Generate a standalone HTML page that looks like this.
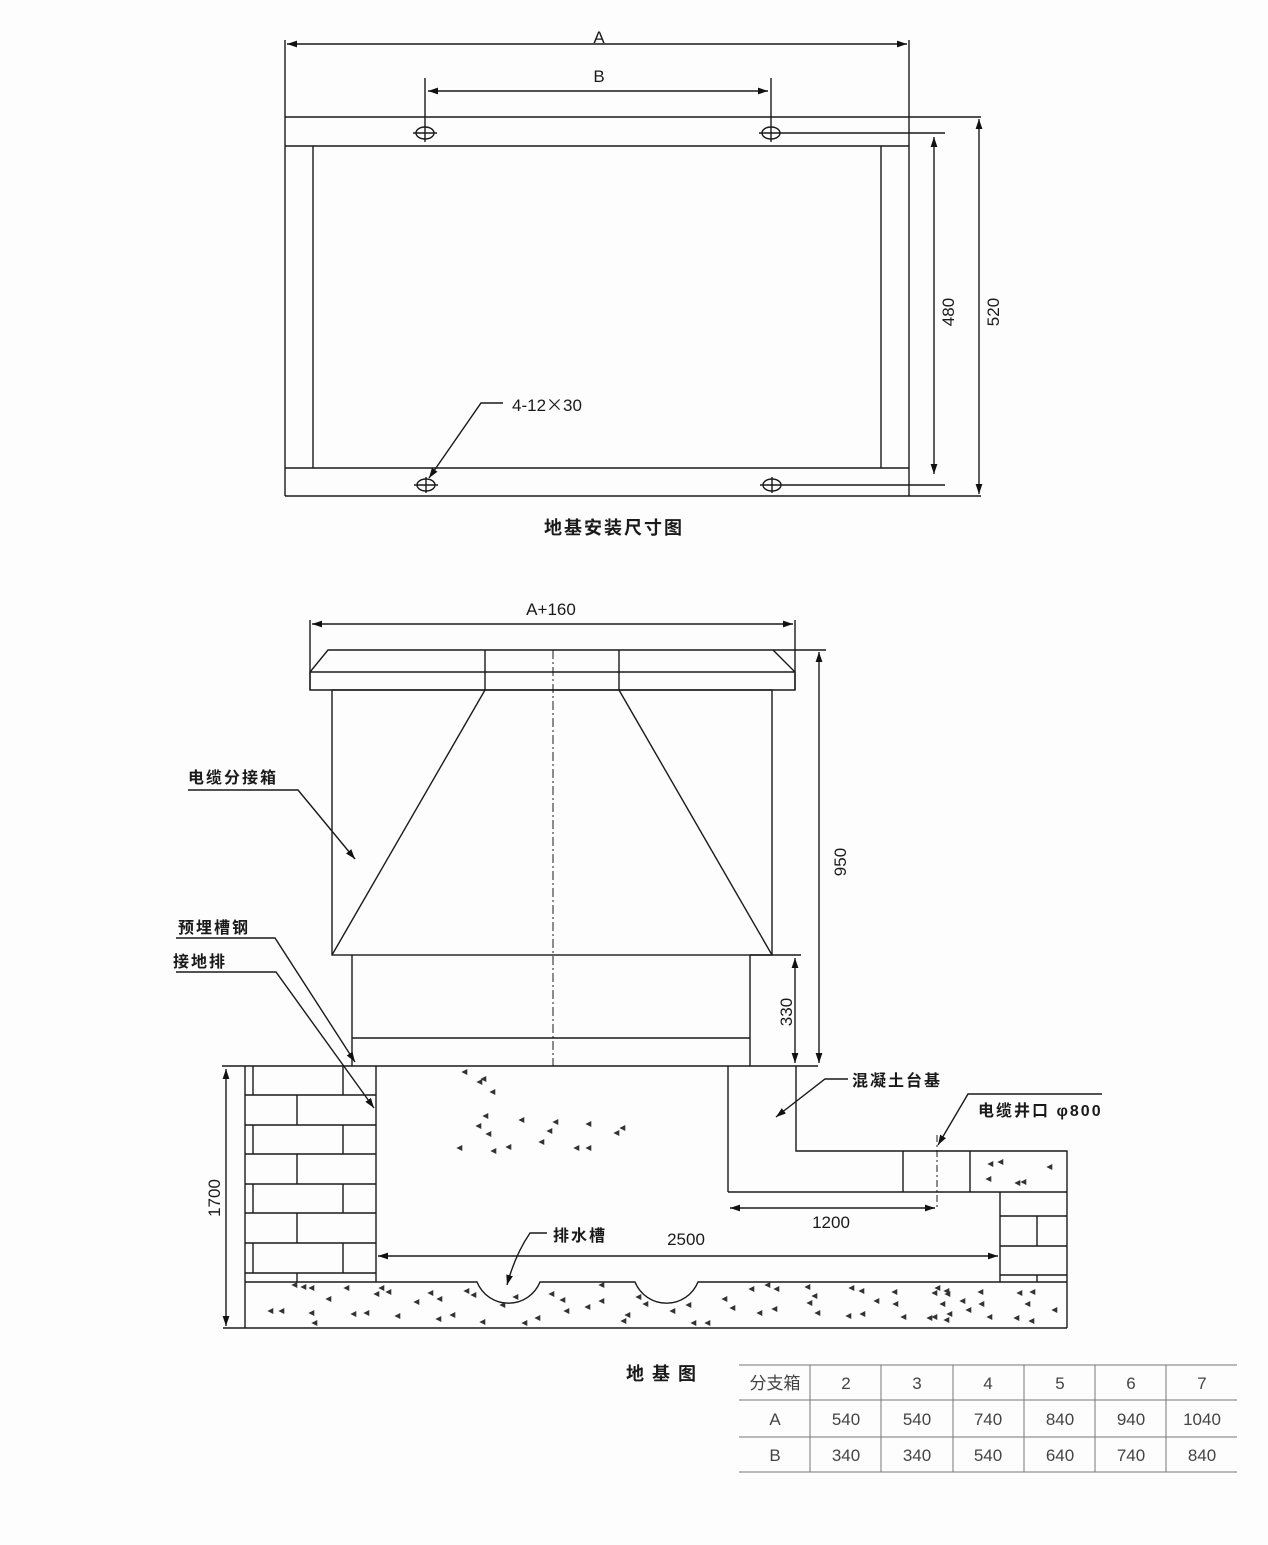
<!DOCTYPE html>
<html><head><meta charset="utf-8">
<style>
html,body{margin:0;padding:0;background:#fdfdfd;}
svg{display:block;}
text{font-family:"Liberation Sans","Noto Sans CJK SC",sans-serif;fill:#1a1a1a;}
.cn{font-weight:700;font-size:16px;letter-spacing:2px;}
.num{font-size:17px;}
.tb{font-size:17px;fill:#444;text-anchor:middle;}
</style></head>
<body>
<svg width="1268" height="1545" viewBox="0 0 1268 1545" xmlns="http://www.w3.org/2000/svg">
<defs>
<marker id="ar" markerWidth="12" markerHeight="8" refX="10" refY="4" orient="auto-start-reverse" markerUnits="userSpaceOnUse"><path d="M0,0.6 L10,4 L0,7.4 Z" fill="#111"/></marker>
</defs>

<g stroke="#1a1a1a" stroke-width="1.4" fill="none">
<!-- ===== Top diagram ===== -->
<line x1="285" y1="117" x2="981" y2="117"/>
<line x1="285" y1="146" x2="909" y2="146"/>
<line x1="285" y1="468" x2="909" y2="468"/>
<line x1="285" y1="496" x2="981" y2="496"/>
<line x1="285" y1="40" x2="285" y2="496"/>
<line x1="909" y1="40" x2="909" y2="496"/>
<line x1="313" y1="146" x2="313" y2="468"/>
<line x1="881" y1="146" x2="881" y2="468"/>
<line x1="287" y1="44" x2="907" y2="44" marker-start="url(#ar)" marker-end="url(#ar)"/>
<line x1="425" y1="78" x2="425" y2="142"/>
<line x1="771" y1="78" x2="771" y2="142"/>
<line x1="428" y1="91" x2="768" y2="91" marker-start="url(#ar)" marker-end="url(#ar)"/>
<ellipse cx="425" cy="133" rx="9" ry="6"/>
<line x1="413" y1="133" x2="437" y2="133"/>
<ellipse cx="771" cy="133" rx="9" ry="6"/>
<line x1="759" y1="133" x2="781" y2="133"/>
<line x1="781" y1="133" x2="945" y2="133"/>
<ellipse cx="426" cy="485" rx="9" ry="6"/>
<line x1="414" y1="485" x2="438" y2="485"/>
<line x1="426" y1="477" x2="426" y2="493"/>
<ellipse cx="772" cy="485" rx="9" ry="6"/>
<line x1="760" y1="485" x2="945" y2="485"/>
<line x1="772" y1="477" x2="772" y2="493"/>
<line x1="934" y1="137" x2="934" y2="474" marker-start="url(#ar)" marker-end="url(#ar)"/>
<line x1="979" y1="119" x2="979" y2="494" marker-start="url(#ar)" marker-end="url(#ar)"/>
<polyline points="503,403 481,403 429,478" marker-end="url(#ar)"/>

<!-- ===== Bottom diagram: box ===== -->
<line x1="310" y1="620" x2="310" y2="690"/>
<line x1="795" y1="620" x2="795" y2="690"/>
<line x1="312" y1="624" x2="793" y2="624" marker-start="url(#ar)" marker-end="url(#ar)"/>
<polygon points="310,690 310,672 328,650 773,650 795,672 795,690"/>
<line x1="310" y1="672" x2="795" y2="672"/>
<line x1="485" y1="650" x2="485" y2="690"/>
<line x1="619" y1="650" x2="619" y2="690"/>
<line x1="773" y1="650" x2="826" y2="650"/>
<rect x="332" y="690" width="440" height="265"/>
<line x1="485" y1="690" x2="332" y2="955"/>
<line x1="619" y1="690" x2="772" y2="955"/>
<line x1="352" y1="955" x2="352" y2="1066"/>
<line x1="750" y1="955" x2="750" y2="1066"/>
<line x1="352" y1="1038" x2="750" y2="1038"/>
<line x1="750" y1="955" x2="801" y2="955"/>
<line x1="553" y1="650" x2="553" y2="1066" stroke-width="1" stroke-dasharray="9 3 2 3"/>
<line x1="819" y1="652" x2="819" y2="1063" marker-start="url(#ar)" marker-end="url(#ar)"/>
<line x1="795" y1="958" x2="795" y2="1063" marker-start="url(#ar)" marker-end="url(#ar)"/>
<line x1="222" y1="1066" x2="818" y2="1066"/>

<!-- ===== Pedestal ===== -->
<line x1="728" y1="1066" x2="728" y2="1192"/>
<line x1="728" y1="1192" x2="1067" y2="1192"/>
<polyline points="796,1066 796,1151 1067,1151 1067,1328"/>
<line x1="903" y1="1151" x2="903" y2="1192"/>
<line x1="970" y1="1151" x2="970" y2="1192"/>
<line x1="937" y1="1135" x2="937" y2="1210" stroke-width="1" stroke-dasharray="7 3 2 3"/>
<line x1="730" y1="1208" x2="935" y2="1208" marker-start="url(#ar)" marker-end="url(#ar)"/>

<!-- right brick -->
<line x1="1000" y1="1192" x2="1000" y2="1282"/>
<line x1="1000" y1="1216" x2="1067" y2="1216"/>
<line x1="1000" y1="1246" x2="1067" y2="1246"/>
<line x1="1000" y1="1275" x2="1067" y2="1275"/>
<line x1="1037" y1="1216" x2="1037" y2="1246"/>
<line x1="1037" y1="1275" x2="1037" y2="1282"/>

<!-- left brick wall -->
<line x1="245" y1="1066" x2="245" y2="1328"/>
<line x1="376" y1="1066" x2="376" y2="1282"/>
<line x1="245" y1="1095" x2="376" y2="1095"/>
<line x1="245" y1="1125" x2="376" y2="1125"/>
<line x1="245" y1="1154" x2="376" y2="1154"/>
<line x1="245" y1="1184" x2="376" y2="1184"/>
<line x1="245" y1="1213" x2="376" y2="1213"/>
<line x1="245" y1="1243" x2="376" y2="1243"/>
<line x1="245" y1="1273" x2="376" y2="1273"/>
<line x1="253" y1="1066" x2="253" y2="1095"/><line x1="343" y1="1066" x2="343" y2="1095"/>
<line x1="297" y1="1095" x2="297" y2="1125"/>
<line x1="253" y1="1125" x2="253" y2="1154"/><line x1="343" y1="1125" x2="343" y2="1154"/>
<line x1="297" y1="1154" x2="297" y2="1184"/>
<line x1="253" y1="1184" x2="253" y2="1213"/><line x1="343" y1="1184" x2="343" y2="1213"/>
<line x1="297" y1="1213" x2="297" y2="1243"/>
<line x1="253" y1="1243" x2="253" y2="1273"/><line x1="343" y1="1243" x2="343" y2="1273"/>
<line x1="297" y1="1273" x2="297" y2="1282"/>

<!-- slab -->
<path d="M245,1282 L477,1282 A34 34 0 0 0 540,1282 L635,1282 A34 34 0 0 0 698,1282 L1067,1282"/>
<line x1="223" y1="1328" x2="1067" y2="1328"/>
<line x1="226" y1="1069" x2="226" y2="1326" marker-start="url(#ar)" marker-end="url(#ar)"/>
<line x1="378" y1="1256" x2="998" y2="1256" marker-start="url(#ar)" marker-end="url(#ar)"/>

<!-- leaders -->
<polyline points="188,790 298,790 355,859" marker-end="url(#ar)"/>
<polyline points="176,938 275,938 355,1062" marker-end="url(#ar)"/>
<polyline points="176,972 276,972 374,1108" marker-end="url(#ar)"/>
<polyline points="848,1079 825,1079 776,1117" marker-end="url(#ar)"/>
<polyline points="1102,1094 968,1094 938,1145" marker-end="url(#ar)"/>
<path d="M547,1233 L530,1233 Q515,1255 507,1285" marker-end="url(#ar)"/>
</g>

<!-- concrete dots -->
<g fill="#333" stroke="#333" stroke-width="0.6">
<path d="M462,1072 l5,-2.5 l0,5Z M477,1082 l5,-2.5 l0,5Z M481,1079 l5,-2.5 l0,5Z M490,1092 l5,-2.5 l0,5Z M483,1116 l5,-2.5 l0,5Z M476,1126 l5,-2.5 l0,5Z M486,1134 l5,-2.5 l0,5Z M457,1148 l5,-2.5 l0,5Z M491,1151 l5,-2.5 l0,5Z M506,1147 l5,-2.5 l0,5Z M519,1120 l5,-2.5 l0,5Z M547,1131 l5,-2.5 l0,5Z M553,1122 l5,-2.5 l0,5Z M539,1142 l5,-2.5 l0,5Z M586,1124 l5,-2.5 l0,5Z M574,1148 l5,-2.5 l0,5Z M586,1148 l5,-2.5 l0,5Z M614,1133 l5,-2.5 l0,5Z M620,1128 l5,-2.5 l0,5Z"/>
<path d="M988,1164 l5,-2.5 l0,5Z M998,1162 l5,-2.5 l0,5Z M1047,1167 l5,-2.5 l0,5Z M986,1179 l5,-2.5 l0,5Z M1015,1183 l5,-2.5 l0,5Z M1021,1182 l5,-2.5 l0,5Z"/>
<path d="M292,1285 l5,-2.5 l0,5Z M301,1287 l5,-2.5 l0,5Z M309,1288 l5,-2.5 l0,5Z M344,1288 l5,-2.5 l0,5Z M379,1288 l5,-2.5 l0,5Z M386,1292 l5,-2.5 l0,5Z M374,1294 l5,-2.5 l0,5Z M326,1299 l5,-2.5 l0,5Z M268,1311 l5,-2.5 l0,5Z M279,1311 l5,-2.5 l0,5Z M309,1313 l5,-2.5 l0,5Z M312,1323 l5,-2.5 l0,5Z M351,1314 l5,-2.5 l0,5Z M364,1313 l5,-2.5 l0,5Z M395,1316 l5,-2.5 l0,5Z M414,1302 l5,-2.5 l0,5Z M428,1293 l5,-2.5 l0,5Z M437,1299 l5,-2.5 l0,5Z M436,1319 l5,-2.5 l0,5Z M450,1315 l5,-2.5 l0,5Z M464,1291 l5,-2.5 l0,5Z M471,1295 l5,-2.5 l0,5Z M480,1322 l5,-2.5 l0,5Z M513,1297 l5,-2.5 l0,5Z M500,1305 l5,-2.5 l0,5Z M522,1323 l5,-2.5 l0,5Z M535,1318 l5,-2.5 l0,5Z M549,1294 l5,-2.5 l0,5Z M560,1300 l5,-2.5 l0,5Z M564,1311 l5,-2.5 l0,5Z M585,1307 l5,-2.5 l0,5Z M599,1301 l5,-2.5 l0,5Z M599,1285 l5,-2.5 l0,5Z M625,1315 l5,-2.5 l0,5Z M621,1321 l5,-2.5 l0,5Z M636,1297 l5,-2.5 l0,5Z M643,1304 l5,-2.5 l0,5Z M670,1311 l5,-2.5 l0,5Z M686,1305 l5,-2.5 l0,5Z M691,1323 l5,-2.5 l0,5Z M705,1323 l5,-2.5 l0,5Z"/>
<path d="M722,1299 l5,-2.5 l0,5Z M730,1308 l5,-2.5 l0,5Z M749,1289 l5,-2.5 l0,5Z M757,1313 l5,-2.5 l0,5Z M765,1285 l5,-2.5 l0,5Z M772,1309 l5,-2.5 l0,5Z M774,1289 l5,-2.5 l0,5Z M805,1287 l5,-2.5 l0,5Z M812,1296 l5,-2.5 l0,5Z M807,1303 l5,-2.5 l0,5Z M815,1313 l5,-2.5 l0,5Z M846,1316 l5,-2.5 l0,5Z M849,1288 l5,-2.5 l0,5Z M859,1291 l5,-2.5 l0,5Z M860,1314 l5,-2.5 l0,5Z M874,1301 l5,-2.5 l0,5Z M892,1292 l5,-2.5 l0,5Z M893,1304 l5,-2.5 l0,5Z M901,1317 l5,-2.5 l0,5Z M927,1318 l5,-2.5 l0,5Z M932,1317 l5,-2.5 l0,5Z M932,1293 l5,-2.5 l0,5Z M935,1288 l5,-2.5 l0,5Z M940,1304 l5,-2.5 l0,5Z M944,1291 l5,-2.5 l0,5Z M945,1294 l5,-2.5 l0,5Z M947,1314 l5,-2.5 l0,5Z M944,1320 l5,-2.5 l0,5Z M960,1301 l5,-2.5 l0,5Z M966,1310 l5,-2.5 l0,5Z M978,1292 l5,-2.5 l0,5Z M979,1304 l5,-2.5 l0,5Z M987,1317 l5,-2.5 l0,5Z M1014,1318 l5,-2.5 l0,5Z M1017,1293 l5,-2.5 l0,5Z M1025,1304 l5,-2.5 l0,5Z M1029,1321 l5,-2.5 l0,5Z M1030,1292 l5,-2.5 l0,5Z M1052,1310 l5,-2.5 l0,5Z"/>
</g>

<!-- ===== Text ===== -->
<text class="num" x="599" y="43" text-anchor="middle">A</text>
<text class="num" x="599" y="82" text-anchor="middle">B</text>
<text class="num" transform="translate(948,312) rotate(-90)" x="0" y="6" text-anchor="middle">480</text>
<text class="num" transform="translate(993,312) rotate(-90)" x="0" y="6" text-anchor="middle">520</text>
<text class="num" x="512" y="411">4-12<tspan font-family="'Noto Sans CJK SC',sans-serif">×</tspan>30</text>
<text x="614" y="534" text-anchor="middle" font-size="18" font-weight="700" letter-spacing="2">地基安装尺寸图</text>

<text class="num" x="551" y="615" text-anchor="middle">A+160</text>
<text class="cn" x="188" y="783">电缆分接箱</text>
<text class="num" transform="translate(840,862) rotate(-90)" x="0" y="6" text-anchor="middle">950</text>
<text class="cn" x="178" y="933">预埋槽钢</text>
<text class="cn" x="173" y="967">接地排</text>
<text class="num" transform="translate(786,1012) rotate(-90)" x="0" y="6" text-anchor="middle">330</text>
<text class="cn" x="852" y="1086">混凝土台基</text>
<text class="cn" x="978" y="1116">电缆井口 φ800</text>
<text class="num" x="831" y="1228" text-anchor="middle">1200</text>
<text class="cn" x="553" y="1241">排水槽</text>
<text class="num" x="686" y="1245" text-anchor="middle">2500</text>
<text class="num" transform="translate(214,1198) rotate(-90)" x="0" y="6" text-anchor="middle">1700</text>
<text x="626" y="1380" font-size="18" font-weight="700" letter-spacing="8">地基图</text>

<!-- table -->
<g stroke="#777" stroke-width="1">
<line x1="739" y1="1365" x2="1237" y2="1365"/>
<line x1="739" y1="1400" x2="1237" y2="1400"/>
<line x1="739" y1="1437" x2="1237" y2="1437"/>
<line x1="739" y1="1472" x2="1237" y2="1472"/>
<line x1="810" y1="1365" x2="810" y2="1472"/>
<line x1="881" y1="1365" x2="881" y2="1472"/>
<line x1="953" y1="1365" x2="953" y2="1472"/>
<line x1="1024" y1="1365" x2="1024" y2="1472"/>
<line x1="1095" y1="1365" x2="1095" y2="1472"/>
<line x1="1166" y1="1365" x2="1166" y2="1472"/>
</g>
<text class="tb" x="775" y="1389">分支箱</text>
<text class="tb" x="846" y="1389">2</text>
<text class="tb" x="917" y="1389">3</text>
<text class="tb" x="988" y="1389">4</text>
<text class="tb" x="1060" y="1389">5</text>
<text class="tb" x="1131" y="1389">6</text>
<text class="tb" x="1202" y="1389">7</text>
<text class="tb" x="775" y="1425">A</text>
<text class="tb" x="846" y="1425">540</text>
<text class="tb" x="917" y="1425">540</text>
<text class="tb" x="988" y="1425">740</text>
<text class="tb" x="1060" y="1425">840</text>
<text class="tb" x="1131" y="1425">940</text>
<text class="tb" x="1202" y="1425">1040</text>
<text class="tb" x="775" y="1461">B</text>
<text class="tb" x="846" y="1461">340</text>
<text class="tb" x="917" y="1461">340</text>
<text class="tb" x="988" y="1461">540</text>
<text class="tb" x="1060" y="1461">640</text>
<text class="tb" x="1131" y="1461">740</text>
<text class="tb" x="1202" y="1461">840</text>
</svg>
</body></html>
